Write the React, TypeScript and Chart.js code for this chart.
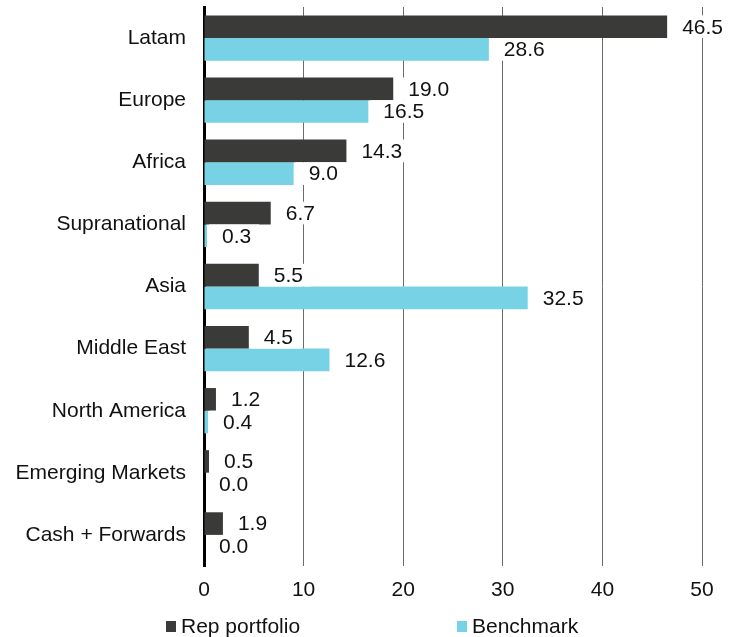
import React, { useEffect, useRef } from "react";
import { Chart, registerables } from "chart.js";

Chart.register(...registerables);

const categories = [
  "Latam",
  "Europe",
  "Africa",
  "Supranational",
  "Asia",
  "Middle East",
  "North America",
  "Emerging Markets",
  "Cash + Forwards",
];
const repPortfolio = [46.5, 19.0, 14.3, 6.7, 5.5, 4.5, 1.2, 0.5, 1.9];
const benchmark = [28.6, 16.5, 9.0, 0.3, 32.5, 12.6, 0.4, 0.0, 0.0];
const xTicks = [0, 10, 20, 30, 40, 50];
const seriesNames = ["Rep portfolio", "Benchmark"];
const seriesColors = ["#3a3b38", "#76d2e4"];

const FONT = '"Liberation Sans", Arial, Helvetica, sans-serif';
const FONT_SIZE = 21;

const valueLabelPlugin = {
  id: "valueLabels",
  afterDatasetsDraw(chart: any) {
    const ctx = chart.ctx;
    ctx.save();
    ctx.font = `${FONT_SIZE}px ${FONT}`;
    ctx.textBaseline = "middle";
    ctx.textAlign = "left";
    chart.data.datasets.forEach((ds: any, di: number) => {
      const meta = chart.getDatasetMeta(di);
      meta.data.forEach((el: any, i: number) => {
        const v = ds.data[i] as number;
        const txt = v.toFixed(1);
        const w = ctx.measureText(txt).width;
        const h = el.height;
        const x0 = el.x + 2;
        const tx = el.x + 15;
        ctx.fillStyle = "#ffffff";
        ctx.fillRect(x0, el.y - h / 2, tx - x0 + w + 8, h);
        ctx.fillStyle = "#111111";
        ctx.fillText(txt, tx, el.y + 1);
      });
    });
    ctx.restore();
  },
};

const legendPlugin = {
  id: "customLegend",
  afterDraw(chart: any) {
    const ctx = chart.ctx;
    ctx.save();
    ctx.font = `${FONT_SIZE}px ${FONT}`;
    ctx.textBaseline = "middle";
    ctx.textAlign = "left";
    const starts = [166, 457];
    const y = 626;
    chart.data.datasets.forEach((ds: any, di: number) => {
      const x = starts[di];
      ctx.fillStyle = ds.backgroundColor;
      ctx.fillRect(x, y - 5, 10, 11);
      ctx.fillStyle = "#111111";
      ctx.fillText(ds.label, x + 15, y + 1);
    });
    ctx.restore();
  },
};

export default function App() {
  const ref = useRef<HTMLCanvasElement | null>(null);
  useEffect(() => {
    document.body.style.margin = "0";
    if (!ref.current) return;
    const chart = new Chart(ref.current, {
      type: "bar",
      data: {
        labels: categories,
        datasets: [
          {
            label: seriesNames[0],
            data: repPortfolio,
            backgroundColor: seriesColors[0],
            barPercentage: 1,
            categoryPercentage: 0.73,
          },
          {
            label: seriesNames[1],
            data: benchmark,
            backgroundColor: seriesColors[1],
            barPercentage: 1,
            categoryPercentage: 0.73,
          },
        ],
      },
      options: {
        indexAxis: "y",
        animation: false,
        responsive: false,
        layout: { padding: { top: 7, right: 37, left: 0, bottom: 31 } },
        plugins: {
          legend: { display: false },
          tooltip: { enabled: false },
        },
        scales: {
          x: {
            min: 0,
            max: 50,
            afterBuildTicks: (s: any) => {
              s.ticks = xTicks.map((v) => ({ value: v }));
            },
            afterFit: (s: any) => {
              s.height = 40;
              s.paddingLeft = 0;
              s.paddingRight = 0;
            },
            ticks: {
              color: "#111111",
              font: { family: FONT, size: FONT_SIZE },
              padding: 12,
            },
            grid: {
              drawTicks: false,
              color: (c: any) => (c.tick && c.tick.value === 0 ? "rgba(0,0,0,0)" : "#6b6b6b"),
              lineWidth: 1,
            },
            border: { display: false },
          },
          y: {
            afterFit: (s: any) => {
              s.width = 204;
              s.paddingTop = 0;
              s.paddingBottom = 0;
            },
            ticks: {
              color: "#111111",
              font: { family: FONT, size: FONT_SIZE },
              padding: 18,
            },
            grid: { display: false, drawTicks: false },
            border: { display: true, color: "#000000", width: 3 },
          },
        },
      },
      plugins: [valueLabelPlugin, legendPlugin],
    } as any);
    return () => chart.destroy();
  }, []);
  return <canvas ref={ref} width={739} height={637} />;
}
